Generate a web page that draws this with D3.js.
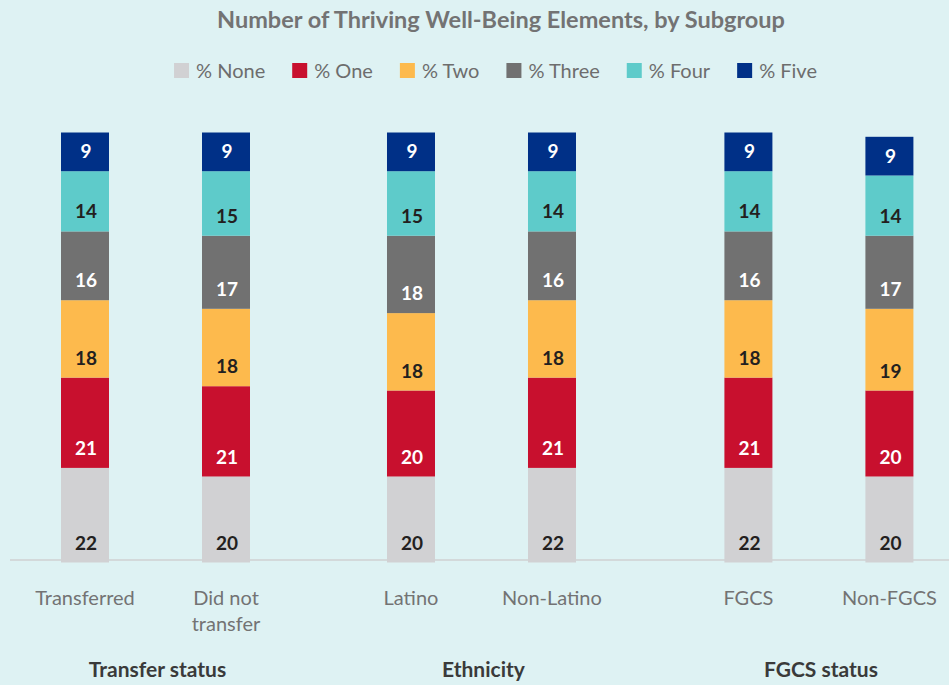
<!DOCTYPE html>
<html><head><meta charset="utf-8">
<script src="https://cdn.jsdelivr.net/npm/d3@7"></script>
<style>html,body{margin:0;padding:0;background:#def2f3;}svg{display:block;}</style>
</head><body>
<div id="chart"></div>
<script>
const categories = ["Transferred", "Did not transfer", "Latino", "Non-Latino", "FGCS", "Non-FGCS"];
const categoryLines = [["Transferred"], ["Did not", "transfer"], ["Latino"], ["Non-Latino"], ["FGCS"], ["Non-FGCS"]];
const groupOf = [0, 0, 1, 1, 2, 2];
const groups = ["Transfer status", "Ethnicity", "FGCS status"];
const seriesNames = ["% None", "% One", "% Two", "% Three", "% Four", "% Five"];
const noneVals  = [22, 20, 20, 22, 22, 20];
const oneVals   = [21, 21, 20, 21, 21, 20];
const twoVals   = [18, 18, 18, 18, 18, 19];
const threeVals = [16, 17, 18, 16, 16, 17];
const fourVals  = [14, 15, 15, 14, 14, 14];
const fiveVals  = [9, 9, 9, 9, 9, 9];
const seriesValues = [noneVals, oneVals, twoVals, threeVals, fourVals, fiveVals];
const colors = ["#d1d1d3", "#c8102e", "#fdba4d", "#717171", "#5ecbca", "#003087"];
const labelColors = ["#231f20", "#ffffff", "#231f20", "#ffffff", "#231f20", "#ffffff"];

const W = 949, H = 685;
const FONT = "Lato, sans-serif";
const svg = d3.select("#chart").append("svg").attr("width", W).attr("height", H);
svg.append("rect").attr("width", W).attr("height", H).attr("fill", "#def2f3");

// title
svg.append("text").attr("x", 501).attr("y", 28).attr("text-anchor", "middle")
  .attr("font-family", FONT).attr("font-weight", 700).attr("font-size", 23.5)
  .attr("fill", "#737373").text("Number of Thriving Well-Being Elements, by Subgroup");

// legend
const leg = svg.append("g");
let lx = 0;
seriesNames.forEach((n, i) => {
  leg.append("rect").attr("x", lx).attr("y", 63).attr("width", 15).attr("height", 15).attr("fill", colors[i]);
  const t = leg.append("text").attr("x", lx + 22).attr("y", 78)
    .attr("font-family", FONT).attr("font-size", 20).attr("fill", "#6d6d6d").text(n);
  lx += 22 + t.node().getComputedTextLength() + (i < seriesNames.length - 1 ? 27 : 0);
});
leg.attr("transform", `translate(${495.5 - lx / 2},0)`);

// scales
const groupShift = [0, 0.312, 0.705];
const pos = categories.map((c, i) => i + groupShift[groupOf[i]]);
const x = d3.scaleLinear().domain([0, 1]).range([85, 226]);
const barW = 48;
const y = d3.scaleLinear().domain([0, 100]).range([562.5, 132.5]);

// baseline
svg.append("line").attr("x1", 10).attr("x2", W).attr("y1", 560).attr("y2", 560)
  .attr("stroke", "#cfd0d2").attr("stroke-width", 1.5);

// stack
const table = categories.map((c, i) => {
  const o = {cat: c, idx: i};
  seriesNames.forEach((s, k) => o[s] = seriesValues[k][i]);
  return o;
});
const stacked = d3.stack().keys(seriesNames)(table);

const layers = svg.append("g").selectAll("g").data(stacked).join("g");
layers.each(function(layer, k) {
  const g = d3.select(this);
  g.selectAll("rect").data(layer).join("rect")
    .attr("x", d => x(pos[d.data.idx]) - barW / 2)
    .attr("width", barW)
    .attr("y", d => y(d[1]))
    .attr("height", d => y(d[0]) - y(d[1]))
    .attr("fill", colors[k]);
  g.selectAll("text").data(layer).join("text")
    .attr("x", d => x(pos[d.data.idx]) + 1)
    .attr("y", d => y(d[0]) - 13)
    .attr("text-anchor", "middle")
    .attr("font-family", FONT).attr("font-weight", 700).attr("font-size", 19)
    .attr("fill", labelColors[k])
    .text(d => d[1] - d[0]);
});

// category labels
const catG = svg.append("g");
categories.forEach((c, i) => {
  const t = catG.append("text").attr("x", x(pos[i])).attr("y", 605).attr("text-anchor", "middle")
    .attr("font-family", FONT).attr("font-size", 20).attr("fill", "#737373");
  categoryLines[i].forEach((ln, j) => {
    t.append("tspan").attr("x", x(pos[i])).attr("dy", j === 0 ? 0 : 26).text(ln);
  });
});

// group labels
groups.forEach((gname, gi) => {
  const idx = categories.map((c, i) => i).filter(i => groupOf[i] === gi);
  const cx = d3.mean(idx, i => x(pos[i]));
  svg.append("text").attr("x", cx + 2).attr("y", 677).attr("text-anchor", "middle")
    .attr("font-family", FONT).attr("font-weight", 700).attr("font-size", 21)
    .attr("fill", "#3a3a3a").text(gname);
});
</script>
</body></html>
